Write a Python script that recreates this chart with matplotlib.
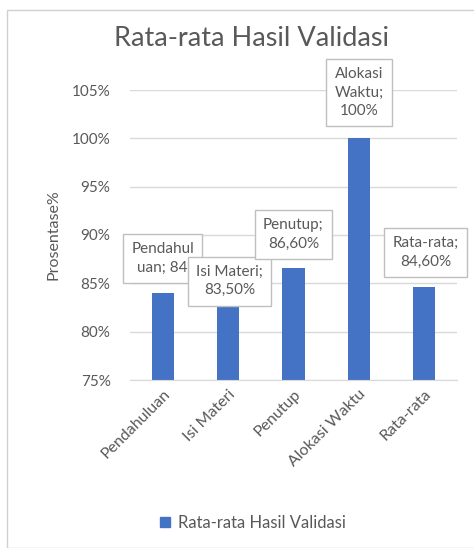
import matplotlib.pyplot as plt
from matplotlib.patches import Rectangle, Patch

# === Daten
kategori = ["Pendahuluan", "Isi Materi", "Penutup", "Alokasi Waktu", "Rata-rata"]
nilai = [84.0, 83.5, 86.6, 100.0, 84.6]
label_teks = ["Pendahul\nuan; 84", "Isi Materi;\n83,50%", "Penutup;\n86,60%",
              "Alokasi\nWaktu;\n100%", "Rata-rata;\n84,60%"]
y_ticks = [75, 80, 85, 90, 95, 100, 105]

BIRU = "#4472C4"
ABU = "#595959"

plt.rcParams['font.family'] = ['Lato', 'DejaVu Sans']

fig = plt.figure(figsize=(4.74, 5.48), dpi=100)
fig.patch.set_facecolor("white")

# === Rahmen Chart
fig.add_artist(Rectangle((7 / 474, 0.0), 1.0, 1 - 10 / 548, transform=fig.transFigure,
                         fill=False, edgecolor="#d0d0d0", linewidth=1))

ax = fig.add_axes([130 / 474, 1 - 380 / 548, 327 / 474, 290 / 548])
x = range(len(kategori))
ax.bar(x, nilai, width=0.34, color=BIRU, zorder=2)

ax.set_ylim(75, 105)
ax.set_xlim(-0.5, len(kategori) - 0.5)
ax.set_yticks(y_ticks)
ax.set_yticklabels([f"{v}%" for v in y_ticks], color=ABU, fontsize=11)
ax.yaxis.grid(True, color="#d9d9d9", linewidth=1, zorder=0)
ax.tick_params(axis="both", length=0, pad=14)
ax.tick_params(axis="x", pad=5)
for s in ["top", "right", "left"]:
    ax.spines[s].set_visible(False)
ax.spines["bottom"].set_color("#d9d9d9")

ax.set_xticks(list(x))
ax.set_xticklabels(kategori, rotation=45, ha="right", rotation_mode="anchor",
                   color=ABU, fontsize=11.5)
ax.set_ylabel("Prosentase%", color=ABU, fontsize=11.5, labelpad=8)

# === Data labels (Callout)
offset = [(0, 25), (1, 12), (0, 24), (0, 33), (1, 25)]
for i, (v, t) in enumerate(zip(nilai, label_teks)):
    ax.annotate(t, (i, v), xytext=offset[i], textcoords="offset points",
                ha="center", va="center", color=ABU, fontsize=11, linespacing=1.4,
                bbox=dict(boxstyle="square,pad=0.55", fc="white", ec="#bfbfbf", lw=1),
                zorder=5, annotation_clip=False)

fig.text(251 / 474, 1 - 39 / 548, "Rata-rata Hasil Validasi", ha="center", va="center",
         fontsize=19.5, color=ABU)

fig.legend(handles=[Patch(color=BIRU, label="Rata-rata Hasil Validasi")],
           loc="center", bbox_to_anchor=(253 / 474, 1 - 523 / 548), frameon=False,
           fontsize=12, handlelength=0.6, handleheight=0.6, handletextpad=0.5,
           labelcolor=ABU)

plt.savefig("out.png", dpi=100)
plt.close()
